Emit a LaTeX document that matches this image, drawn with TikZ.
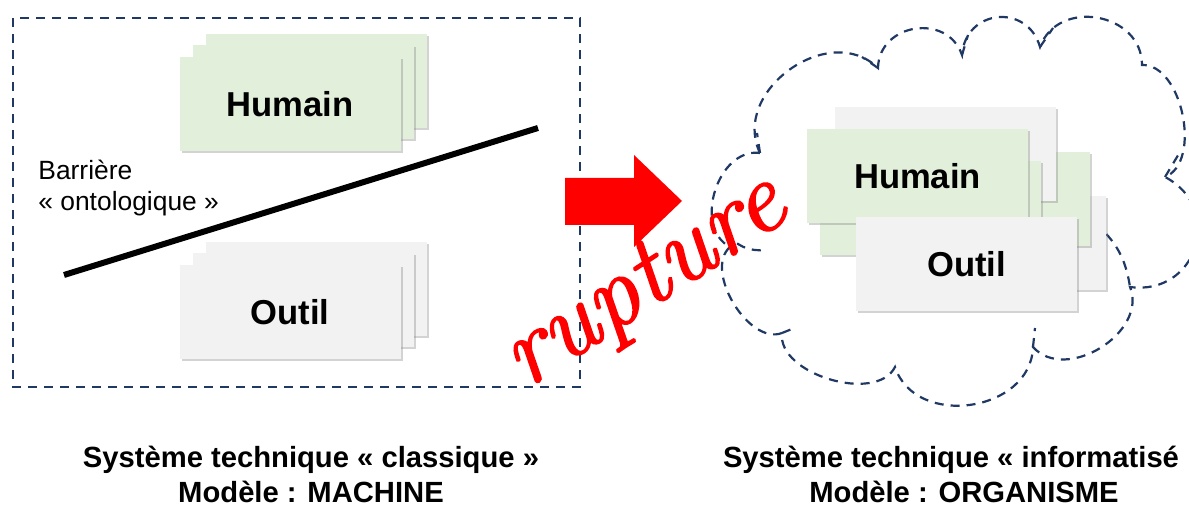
\documentclass[tikz,border=0pt]{standalone}
\usepackage{fontspec}
\setsansfont{Liberation Sans}
\newfontfamily\rupturefont{lmroman10-italic.otf}[FakeBold=1.6]
\usepackage{xcolor}
\definecolor{navy}{HTML}{203864}
\definecolor{vert}{HTML}{E2EFDA}
\definecolor{gris}{HTML}{F2F2F2}
\usetikzlibrary{shadows}

\begin{document}
\begin{tikzpicture}[x=0.5pt, y=-0.5pt, font=\sffamily,
    pile/.style={minimum width=110.5pt, minimum height=47pt, inner sep=0pt,
      drop shadow={shadow xshift=1pt, shadow yshift=-1pt, opacity=.35}},
    humain/.style={pile, fill=vert},
    outil/.style={pile, fill=gris},
    boite/.style={font=\sffamily\bfseries\fontsize{17.3}{20}\selectfont},
    pointille/.style={draw=navy, line width=1.1pt, dash pattern=on 4.5pt off 3.5pt},
    legende/.style={font=\sffamily\bfseries\fontsize{14.6}{16}\selectfont}]
  \useasboundingbox (0,0) rectangle (1189,506);
  \clip (0,0) rectangle (1189,506);

  % systeme technique classique
  \draw[pointille] (13,18) rectangle (580,387);
  \foreach \d in {2,1} {
    \node[humain] (hg\d) at ({290+13*\d},{104-11.5*\d}) {};
    \node[outil] (og\d) at ({290+13*\d},{312-11.5*\d}) {};
  }
  \node[humain, boite] (hg0) at (290,104) {Humain};
  \node[outil, boite] (og0) at (290,312) {Outil};

  \coordinate (barA) at (64,275);
  \coordinate (barB) at (538,128);
  \draw[line width=3pt] (barA) -- (barB);
  \node[anchor=west, align=left, inner sep=0pt, font=\sffamily\fontsize{13.2}{15.5}\selectfont] (barriere) at (38,188) {Barrière\\« ontologique »};

  % rupture
  \fill[red] (565,178) -- (634,178) -- (634,155) -- (682,201) -- (634,247) -- (634,225) -- (565,225) -- cycle;

  % nuage
  \draw[pointille] (760,153) to[bend left=80, looseness=1.2] (878,68)
    to[bend left=80, looseness=1.35] (962,55)
    to[bend left=80, looseness=1.5] (1040,47)
    to[bend left=80, looseness=1.3] (1142,65)
    to[bend left=80, looseness=0.9] (1165,177)
    to[bend left=80, looseness=1.5] (1130,287)
    to[bend left=80, looseness=1.1] (1033,347)
    to[bend left=80, looseness=1.2] (895,367)
    to[bend left=80, looseness=0.9] (782,333)
    to[bend left=80, looseness=0.9] (730,247)
    to[bend left=80, looseness=1.1] (760,153);
  \foreach \xa/\ya/\xb/\yb in {878/68/862/57, 962/55/968/35, 1040/47/1053/28, 1165/177/1180/152,
      1033/347/1035/328, 782/333/792/329, 760/153/757/133}
    \draw[pointille] (\xa,\ya) -- (\xb,\yb);
  \draw[pointille] (1095,223) to[bend left=20] (1130,287);
  \draw[pointille] (726,232) to[bend right=30] (765,250);

  % systeme technique informatise
  \node[outil] (od3) at (995.5,243.5) {};
  \node[humain] (hd3) at (979.5,199.5) {};
  \node[outil] (od2) at (945,154.5) {};
  \node[humain] (hd2) at (930.5,208.5) {};
  \node[humain, boite] (hd1) at (917.5,176) {Humain};
  \node[outil, boite] (od1) at (966.5,264.5) {Outil};

  \node[red, rotate=33, font=\rupturefont\fontsize{50}{50}\selectfont] (rupt) at (647,285) {rupture};

  \node[legende] (cg1) at (311,460) {Système technique « classique »};
  \node[legende] (cg2) at (311,492) {Modèle : MACHINE};
  \node[legende] (cd1) at (951,460) {Système technique « informatisé};
  \node[legende] (cd2) at (964,492) {Modèle : ORGANISME};
\end{tikzpicture}
\end{document}
